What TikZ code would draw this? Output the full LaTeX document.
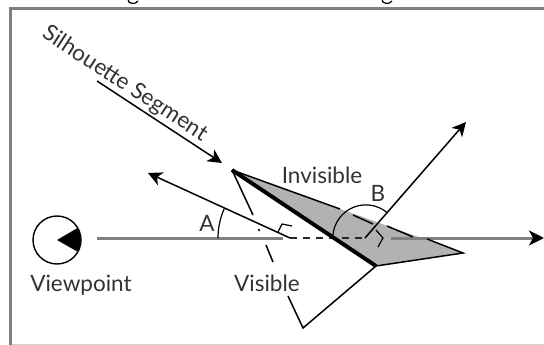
\documentclass[tikz,border=0pt]{standalone}
\usepackage{fontspec}
\setmainfont{Lato}
\usetikzlibrary{arrows.meta}
\definecolor{lbl}{gray}{0.2}
\definecolor{fr}{gray}{0.5}
\tikzset{
  lab/.style={text=lbl,font=\fontsize{22.5}{25}\selectfont,inner sep=0pt},
  thinl/.style={line width=1.5pt,black},
  axisl/.style={line width=3pt,fr},
  arr/.style={line width=1.5pt,black,-{Stealth[length=14pt,width=14pt,inset=4pt]}},
}
\begin{document}
\begin{tikzpicture}[x=1pt,y=-1pt]
\useasboundingbox (0,0) rectangle (544,345);
\fill[white] (0,0) rectangle (544,345);
% clipped caption descenders
\draw[line width=1.2pt,black] (128,-1) .. controls (127,4) and (136,5) .. (138,1);
\draw[line width=1.2pt,black] (382,-1) .. controls (381,4) and (390,5) .. (392,1);
% frame
\draw[line width=3pt,fr] (544,8.5) -- (10.5,8.5) -- (10.5,345);
\draw[line width=1pt,black!18] (12,344) -- (544,344);
% key points
\coordinate (top) at (232,170);
\coordinate (bot) at (376,266);
\coordinate (tip) at (463,253);
\coordinate (oa) at (290,238);
\coordinate (ob) at (365,238);
\coordinate (ae) at (148,173);
\coordinate (be) at (466,122);
\coordinate (foot) at (303,328);
\coordinate (vs) at (97,238);
\coordinate (ve) at (544,238);
\coordinate (sa) at (97,81);
\coordinate (sb) at (222,163);
% gray polygon
\fill[black!30] (top) -- (tip) -- (bot) -- cycle;
% axis
\draw[axisl] (vs) -- (283,238);
\draw[axisl,-{Stealth[length=15pt,width=15pt,inset=4pt,color=black]}] (391,238) -- (ve);
\draw[line width=1.6pt,black!85,dash pattern=on 7pt off 6pt] (290,238) -- (367,238);
% silhouette edges
\draw[thinl] (top) -- (340,209);
\draw[thinl] (353,215) -- (373,224);
\draw[thinl] (387,226) -- (413,237);
\draw[thinl] (427,239) -- (tip) -- (bot);
\draw[line width=4pt,black] (top) -- (bot);
% visible polygon
\draw[thinl] (bot) -- (foot) -- (288,296);
\draw[thinl] (top) -- (253,215);
\draw[thinl] (258.5,229) -- (259.5,231);
\draw[thinl] (266,245) -- (273,262);
% normals
\draw[arr] (oa) -- (ae);
\draw[arr] (ob) -- (be);
% right-angle marks
\draw[line width=1.2pt] (278,232) -- (282,224) -- (292,226);
\draw[line width=1.2pt] (376,230) -- (383,238) -- (378,247);
% angle arcs
\draw[line width=1.2pt] (218,238) arc[start angle=180,end angle=204,radius=72];
\draw[line width=1.2pt] (333,235) arc[start angle=185,end angle=311,radius=33];
% viewpoint
\node[circle,draw=black,line width=1.4pt,fill=white,minimum size=48pt,inner sep=0pt] (vp) at (57,240) {};
\fill[black] (57,240) -- (77.5,228) arc[start angle=-30,end angle=30,radius=23.7] -- cycle;
% leader
\draw[arr] (sa) -- (sb);
% labels
\node[lab,rotate=-33] (sil) at (125,84) {Silhouette Segment};
\node[lab] (inv) at (322,175) {Invisible};
\node[lab] (vis) at (267,283) {Visible};
\node[lab] (lb) at (378,193) {B};
\node[lab] (la) at (207,223) {A};
\node[lab] (vpl) at (81,285) {Viewpoint};
\end{tikzpicture}
\end{document}
